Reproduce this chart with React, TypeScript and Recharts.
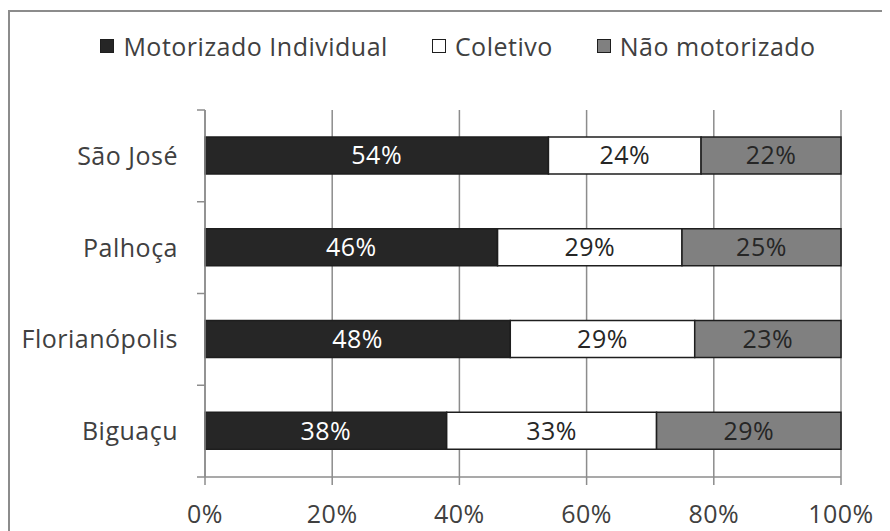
import React from 'react';
import { BarChart, Bar, XAxis, YAxis, CartesianGrid, Legend, LabelList } from 'recharts';

// Modal split by municipality (share of trips, %)
const cities = ['São José', 'Palhoça', 'Florianópolis', 'Biguaçu'];
const motorizadoIndividual = [54, 46, 48, 38];
const coletivo = [24, 29, 29, 33];
const naoMotorizado = [22, 25, 23, 29];
const percentTicks = [0, 20, 40, 60, 80, 100];
const seriesNames = ['Motorizado Individual', 'Coletivo', 'Não motorizado'];

const data = cities.map((city, i) => ({
  city,
  mi: motorizadoIndividual[i],
  co: coletivo[i],
  nm: naoMotorizado[i],
}));

const FONT = '"Open Sans", "Noto Sans", sans-serif';
const TEXT = '#404040';
const AXIS = '#8c8c8c';
const OUTLINE = '#1e1e1e';
const W = 882;
const H = 523;
const TICK_LEN = 8;
const SPACING = '0.5px';

const pct = (v: number) => `${v}%`;

// Category label plus tick marks on the band boundaries (above each band, and below the last one)
const CityTick = (props: any) => {
  const { x, y, payload, index, visibleTicksCount } = props;
  const half = payload && typeof payload.offset === 'number' ? payload.offset : 0;
  const axisX = x + TICK_LEN + 19;
  const isLast = index === (visibleTicksCount ?? cities.length) - 1;
  return (
    <g>
      {half > 0 && (
        <line x1={axisX - TICK_LEN} x2={axisX} y1={y - half} y2={y - half} stroke={AXIS} strokeWidth={1.5} />
      )}
      {half > 0 && isLast && (
        <line x1={axisX - TICK_LEN} x2={axisX} y1={y + half} y2={y + half} stroke={AXIS} strokeWidth={1.5} />
      )}
      <text
        x={x}
        y={y}
        dy="0.355em"
        textAnchor="end"
        fill={TEXT}
        fontSize={25}
        fontFamily={FONT}
        style={{ letterSpacing: SPACING }}
      >
        {payload.value}
      </text>
    </g>
  );
};

const renderLegend = (props: any) => {
  const payload = [...(props.payload || [])].sort(
    (a: any, b: any) => seriesNames.indexOf(a.value) - seriesNames.indexOf(b.value),
  );
  return (
    <div
      style={{
        display: 'flex',
        justifyContent: 'center',
        paddingLeft: 18,
        fontFamily: FONT,
        fontSize: 25,
        lineHeight: '36px',
        letterSpacing: SPACING,
        color: TEXT,
      }}
    >
      {payload.map((entry: any, i: number) => (
        <div key={entry.value} style={{ display: 'flex', alignItems: 'center', marginLeft: i ? 44 : 0 }}>
          <span
            style={{
              display: 'inline-block',
              width: 12,
              height: 12,
              background: entry.color,
              border: `1px solid ${OUTLINE}`,
              marginRight: 9,
            }}
          />
          <span>{entry.value}</span>
        </div>
      ))}
    </div>
  );
};

const labelProps = {
  position: 'center' as const,
  formatter: pct,
  stroke: 'none',
  fontSize: 25,
  fontFamily: FONT,
  style: { letterSpacing: SPACING },
};

export default function App() {
  return (
    <div style={{ position: 'relative', width: W, height: H, overflow: 'hidden', fontFamily: FONT }}>
      <div
        style={{
          position: 'absolute',
          left: 0,
          top: 2,
          width: W + 10,
          height: H + 10,
          borderTop: `2px solid ${AXIS}`,
          borderLeft: `2px solid ${AXIS}`,
          boxSizing: 'border-box',
        }}
      />
      <BarChart
        width={W}
        height={H}
        data={data}
        layout="vertical"
        margin={{ top: 102, right: 49, bottom: 9, left: 0 }}
        barSize={37}
      >
        <CartesianGrid horizontal={false} vertical stroke={AXIS} strokeWidth={1.5} />
        <YAxis
          type="category"
          dataKey="city"
          width={197}
          axisLine={{ stroke: AXIS, strokeWidth: 1.5 }}
          tickLine={false}
          tickSize={TICK_LEN}
          tickMargin={19}
          tick={<CityTick />}
        />
        <XAxis
          type="number"
          domain={[0, 100]}
          ticks={percentTicks}
          interval={0}
          tickFormatter={pct}
          tickSize={TICK_LEN}
          tickMargin={20}
          height={45}
          axisLine={{ stroke: AXIS, strokeWidth: 1.5 }}
          tickLine={{ stroke: AXIS, strokeWidth: 1.5 }}
          tick={{ fill: TEXT, fontSize: 25, fontFamily: FONT, style: { letterSpacing: SPACING } }}
        />
        <Legend
          verticalAlign="middle"
          align="center"
          layout="horizontal"
          content={renderLegend}
          wrapperStyle={{ top: 20, left: 0, width: W, height: 36 }}
        />
        <Bar
          dataKey="mi"
          name={seriesNames[0]}
          stackId="s"
          fill="#262626"
          stroke={OUTLINE}
          strokeWidth={1.5}
          isAnimationActive={false}
        >
          <LabelList dataKey="mi" fill="#ffffff" {...labelProps} />
        </Bar>
        <Bar
          dataKey="co"
          name={seriesNames[1]}
          stackId="s"
          fill="#ffffff"
          stroke={OUTLINE}
          strokeWidth={1.5}
          isAnimationActive={false}
        >
          <LabelList dataKey="co" fill="#262626" {...labelProps} />
        </Bar>
        <Bar
          dataKey="nm"
          name={seriesNames[2]}
          stackId="s"
          fill="#808080"
          stroke={OUTLINE}
          strokeWidth={1.5}
          isAnimationActive={false}
        >
          <LabelList dataKey="nm" fill="#262626" {...labelProps} />
        </Bar>
      </BarChart>
    </div>
  );
}
